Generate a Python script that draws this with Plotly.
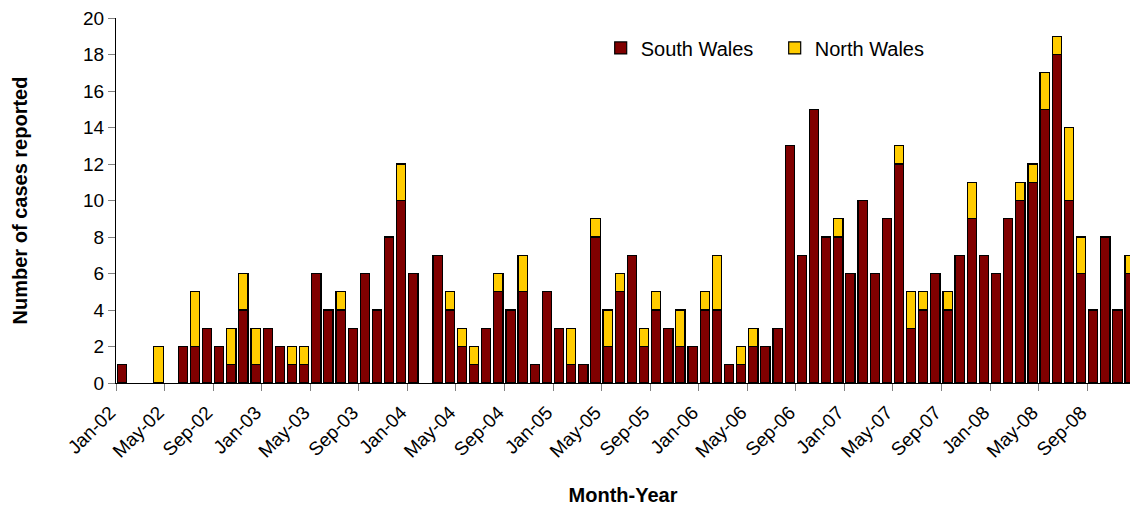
import pandas as pd
import plotly.graph_objects as go

months = pd.date_range("2002-01-01", periods=84, freq="MS").strftime("%b-%y").tolist()

south_wales = [1, 0, 0, 0, 0, 2, 2, 3, 2, 1, 4, 1,
               3, 2, 1, 1, 6, 4, 4, 3, 6, 4, 8, 10,
               6, 0, 7, 4, 2, 1, 3, 5, 4, 5, 1, 5,
               3, 1, 1, 8, 2, 5, 7, 2, 4, 3, 2, 2,
               4, 4, 1, 1, 2, 2, 3, 13, 7, 15, 8, 8,
               6, 10, 6, 9, 12, 3, 4, 6, 4, 7, 9, 7,
               6, 9, 10, 11, 15, 18, 10, 6, 4, 8, 4, 6]
north_wales = [0, 0, 0, 2, 0, 0, 3, 0, 0, 2, 2, 2,
               0, 0, 1, 1, 0, 0, 1, 0, 0, 0, 0, 2,
               0, 0, 0, 1, 1, 1, 0, 1, 0, 2, 0, 0,
               0, 2, 0, 1, 2, 1, 0, 1, 1, 0, 2, 0,
               1, 3, 0, 1, 1, 0, 0, 0, 0, 0, 0, 1,
               0, 0, 0, 0, 1, 2, 1, 0, 1, 0, 2, 0,
               0, 0, 1, 1, 2, 1, 4, 2, 0, 0, 0, 1]

tick_every = 4
y_ticks = list(range(0, 21, 2))

x_idx = list(range(len(months)))
FONT = "Liberation Sans, Arial, sans-serif"


def nz(vals):
    return [v if v else None for v in vals]


fig = go.Figure()
fig.add_trace(go.Bar(
    x=x_idx, y=nz(south_wales), name="South Wales",
    marker=dict(color="#800000", line=dict(color="#000000", width=1.2)),
    customdata=months, hovertemplate="%{customdata}: %{y}<extra>South Wales</extra>",
))
fig.add_trace(go.Bar(
    x=x_idx, y=nz(north_wales), name="North Wales",
    marker=dict(color="#FFCC00", line=dict(color="#000000", width=1.2)),
    customdata=months, hovertemplate="%{customdata}: %{y}<extra>North Wales</extra>",
))

fig.update_layout(
    width=1130, height=506,
    margin=dict(l=116, r=0, t=18, b=123, autoexpand=False),
    barmode="stack", bargap=0.24,
    plot_bgcolor="white", paper_bgcolor="white",
    font=dict(family=FONT, size=19, color="#000000"),
    legend=dict(
        orientation="h", x=0.478, xanchor="left", y=0.918, yanchor="middle",
        font=dict(family=FONT, size=20, color="#000000"),
        bgcolor="rgba(0,0,0,0)", entrywidth=129, traceorder="normal",
    ),
    xaxis=dict(
        range=[-0.5, 83.03], automargin=False,
        tickmode="array",
        tickvals=[i - 0.5 for i in range(0, len(months), tick_every)],
        ticktext=[months[i] for i in range(0, len(months), tick_every)],
        tickangle=-45, ticks="outside", ticklen=7, tickcolor="#808080",
        ticklabelshift=-6, ticklabelstandoff=3,
        showline=True, linecolor="#000000", linewidth=1,
        showgrid=False, zeroline=False,
        tickfont=dict(family=FONT, size=19),
        title=dict(text="<b>Month-Year</b>", font=dict(family=FONT, size=20), standoff=27),
    ),
    yaxis=dict(
        range=[0, 20], tickvals=y_ticks, automargin=False,
        ticks="outside", ticklen=7, tickcolor="#808080",
        showline=True, linecolor="#000000", linewidth=1,
        showgrid=False, zeroline=False,
        tickfont=dict(family=FONT, size=19),
        title=dict(text="<b>Number of cases reported</b>", font=dict(family=FONT, size=20), standoff=50),
    ),
)

fig.write_html(
    "out.html",
    config={"displayModeBar": False},
    post_script="document.body.style.margin='0';document.body.style.overflow='hidden';",
)
